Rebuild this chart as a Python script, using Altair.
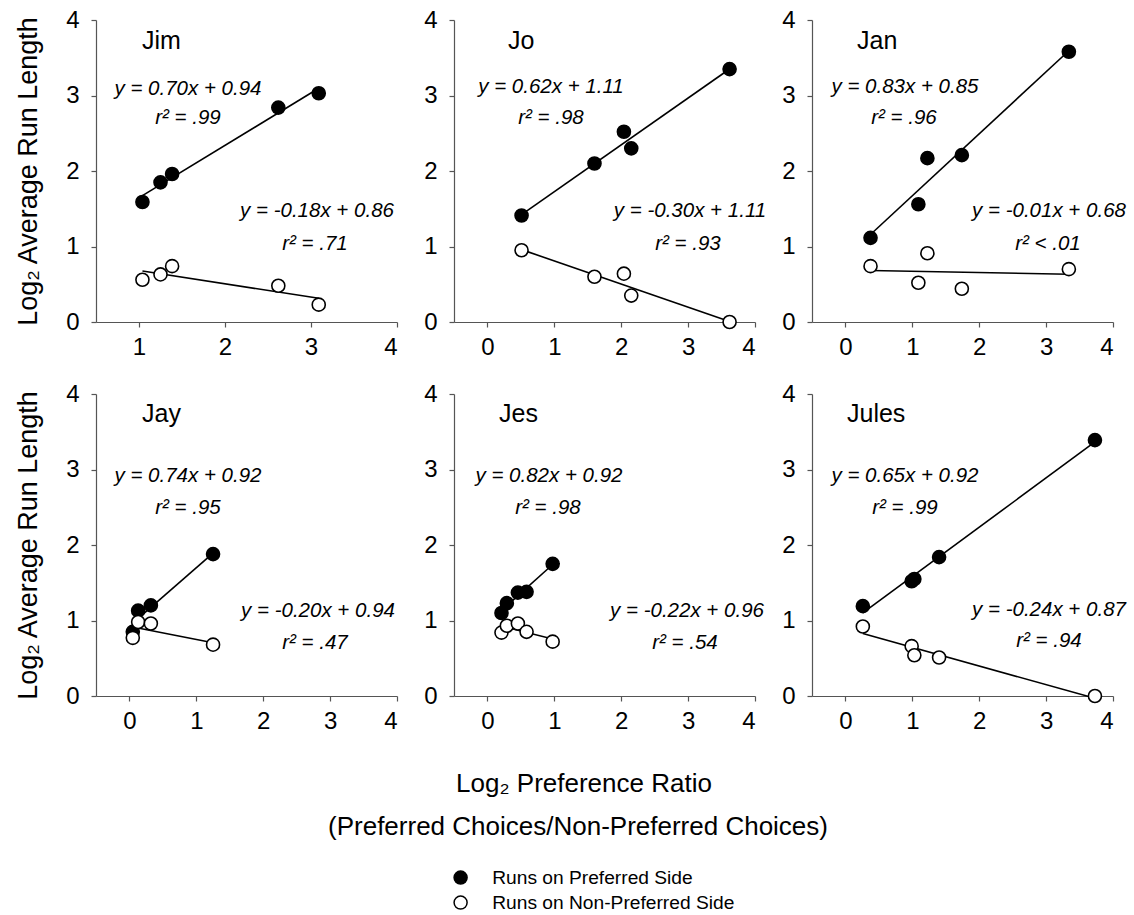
import altair as alt
import numpy as np
import pandas as pd

FONT = "Liberation Sans"
PREF = "Runs on Preferred Side"
NONPREF = "Runs on Non-Preferred Side"

subjects = ["Jim", "Jo", "Jan", "Jay", "Jes", "Jules"]

# Log2 preference ratio (x) and log2 average run length (y) per subject
jim_x = [1.04, 1.25, 1.385, 2.62, 3.09]
jim_pref = [1.59, 1.85, 1.96, 2.84, 3.03]
jim_non = [0.56, 0.63, 0.74, 0.48, 0.23]

jo_x = [0.51, 1.60, 2.04, 2.15, 3.62]
jo_pref = [1.41, 2.10, 2.52, 2.30, 3.35]
jo_non = [0.95, 0.60, 0.64, 0.35, 0.0]

jan_x = [0.375, 1.09, 1.225, 1.74, 3.34]
jan_pref = [1.115, 1.56, 2.17, 2.21, 3.58]
jan_non = [0.74, 0.52, 0.91, 0.44, 0.70]

jay_x = [0.05, 0.13, 0.32, 1.25]
jay_pref = [0.85, 1.13, 1.20, 1.88]
jay_non = [0.77, 0.98, 0.96, 0.68]

jes_x = [0.21, 0.29, 0.455, 0.585, 0.975]
jes_pref = [1.10, 1.23, 1.37, 1.38, 1.75]
jes_non = [0.84, 0.93, 0.96, 0.85, 0.72]

jules_x = [0.26, 0.99, 1.03, 1.40, 3.73]
jules_pref = [1.19, 1.52, 1.55, 1.84, 3.39]
jules_non = [0.92, 0.66, 0.54, 0.51, 0.0]

eq_pref = ["y = 0.70x + 0.94", "y = 0.62x + 1.11", "y = 0.83x + 0.85",
           "y = 0.74x + 0.92", "y = 0.82x + 0.92", "y = 0.65x + 0.92"]
r2_pref = ["r² = .99", "r² = .98", "r² = .96", "r² = .95", "r² = .98", "r² = .99"]
eq_non = ["y = -0.18x + 0.86", "y = -0.30x + 1.11", "y = -0.01x + 0.68",
          "y = -0.20x + 0.94", "y = -0.22x + 0.96", "y = -0.24x + 0.87"]
r2_non = ["r² = .71", "r² = .93", "r² < .01", "r² = .47", "r² = .54", "r² = .94"]

x_title_1 = "Log₂ Preference Ratio"
x_title_2 = "(Preferred Choices/Non-Preferred Choices)"
y_title = "Log₂ Average Run Length"

all_x = [jim_x, jo_x, jan_x, jay_x, jes_x, jules_x]
all_pref = [jim_pref, jo_pref, jan_pref, jay_pref, jes_pref, jules_pref]
all_non = [jim_non, jo_non, jan_non, jay_non, jes_non, jules_non]

# layout (pixel offsets inside each panel)
name_pos = [(46, 21), (54, 21), (45, 21), (46, 20), (45, 20), (35, 20)]
eq1_pos = [(92, 69), (97, 67), (93, 67), (92, 82), (95, 82), (93, 82)]
r1_pos = [(92, 98), (97, 98), (92, 98), (92, 114), (94, 114), (93, 114)]
eq2_pos = [(221, 191), (236, 191), (237, 191), (222, 217), (233, 217), (237, 216)]
r2_pos = [(219, 224), (234, 224), (236, 224), (219, 249), (231, 249), (237, 247)]

fill_scale = alt.Scale(domain=[PREF, NONPREF], range=["black", "white"])
legend = alt.Legend(orient="none", legendX=355, legendY=848, title=None,
                    labelFont=FONT, labelFontSize=19.2, labelColor="black",
                    labelLimit=500,
                    symbolType="circle", symbolSize=170, symbolStrokeColor="black",
                    symbolStrokeWidth=1.5, symbolOpacity=1, labelOffset=22,
                    rowPadding=5, direction="vertical")


def text_layer(txt, pos, size, italic=False, align="center"):
    return alt.Chart(pd.DataFrame({"t": [txt]})).mark_text(
        font=FONT, fontSize=size, fontStyle="italic" if italic else "normal",
        align=align, baseline="middle", color="black"
    ).encode(text="t:N", x=alt.value(pos[0]), y=alt.value(pos[1]))


def panel(i, show_ytitle, extra=None):
    xs, pref, non = all_x[i], all_pref[i], all_non[i]
    pts = pd.DataFrame({
        "x": list(xs) + list(xs),
        "y": list(pref) + list(non),
        "series": [PREF] * len(xs) + [NONPREF] * len(xs),
    })
    rows = []
    for lab, ys in ((PREF, pref), (NONPREF, non)):
        b, a = np.polyfit(xs, ys, 1)
        for xv in (min(xs), max(xs)):
            rows.append({"x": xv, "y": a + b * xv, "series": lab})
    lines = pd.DataFrame(rows)

    xdomain = [0.5, 4] if i == 0 else [-0.5, 4]
    xticks = [1, 2, 3, 4] if i == 0 else [0, 1, 2, 3, 4]
    xenc = alt.X("x:Q", scale=alt.Scale(domain=xdomain, nice=False, zero=False),
                 axis=alt.Axis(values=xticks, title=None, grid=False, format="d"))
    if show_ytitle:
        yaxis = alt.Axis(values=[0, 1, 2, 3, 4], title=y_title, grid=False, format="d")
    else:
        yaxis = alt.Axis(values=[0, 1, 2, 3, 4], title=None, grid=False, format="d")
    yenc = alt.Y("y:Q", scale=alt.Scale(domain=[0, 4], nice=False), axis=yaxis)

    line_layer = alt.Chart(lines).mark_line(color="black", strokeWidth=1.6).encode(
        x=xenc, y=yenc, detail="series:N")
    point_layer = alt.Chart(pts).mark_point(
        filled=True, size=170, stroke="black", strokeWidth=1.6, opacity=1
    ).encode(x=xenc, y=yenc, fill=alt.Fill("series:N", scale=fill_scale, legend=legend))

    layers = [line_layer, point_layer,
              text_layer(subjects[i], name_pos[i], 25, align="left"),
              text_layer(eq_pref[i], eq1_pos[i], 20.5, italic=True),
              text_layer(r2_pref[i], r1_pos[i], 20.5, italic=True),
              text_layer(eq_non[i], eq2_pos[i], 20.5, italic=True),
              text_layer(r2_non[i], r2_pos[i], 20.5, italic=True)]
    if extra:
        layers += extra
    return alt.layer(*layers).properties(width=301, height=302)


xtitles = [text_layer(x_title_1, (130, 390), 26),
           text_layer(x_title_2, (124, 433), 26)]

panels = [panel(0, True), panel(1, False), panel(2, False),
          panel(3, True), panel(4, False, xtitles), panel(5, False)]

chart = alt.concat(*panels, columns=3, spacing={"row": 72, "column": 57},
                   bounds="flush").properties(
    padding={"left": 14, "top": 8, "right": 5, "bottom": 5}
).configure_view(stroke=None).configure_axis(
    domainColor="#555555", tickColor="#555555", domainWidth=1.2, tickWidth=1.2,
    tickSize=5, labelFont=FONT, labelFontSize=24, labelColor="black",
    titleFont=FONT, titleFontSize=27, titleFontWeight="normal", titleColor="black",
).configure_axisX(labelPadding=8).configure_axisY(labelPadding=12, titlePadding=23)

chart.save("out.html", embed_options={"renderer": "svg", "actions": False})
